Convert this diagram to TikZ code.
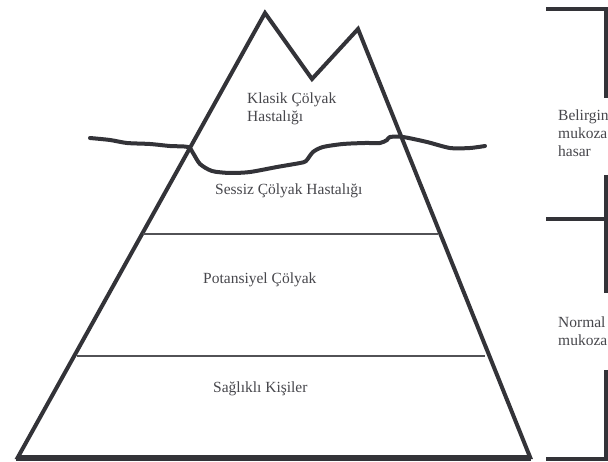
\documentclass[tikz,border=0pt]{standalone}
\usepackage{fontspec}
\setmainfont{Liberation Serif}
\definecolor{ink}{HTML}{333338}
\begin{document}
\begin{tikzpicture}[x=1pt,y=-1pt,
    thick line/.style={line width=4pt,draw=ink},
    thin line/.style={line width=1.2pt,draw=ink!85},
    label/.style={anchor=base west,inner sep=0pt,align=left,text=ink!90,
        font=\fontsize{15.5}{18}\selectfont}]
    \useasboundingbox (0,0) rectangle (608,462);
    \clip (0,0) rectangle (608,462);

    % iceberg
    \draw[thick line,line join=miter]
        (18,457) -- (265,13) -- (312,79) -- (358,29) -- (530,457) -- cycle;
    \draw[thin line]
        (143,234) -- (438,234)
        (77,356) -- (485,356)
    ;

    % water surface
    \draw[thick line,line cap=round] plot[smooth,tension=0.45] coordinates {
        (90,138) (110,140) (127,143) (150,144) (170,146) (188,147)
        (193,153) (200,164) (212,171) (230,173) (250,172) (277,167)
        (300,163) (306,161) (313,152) (323,147) (343,144) (365,143)
        (380,143) (387,140) (390,137) (403,137) (427,142) (450,148)
        (470,148) (485,146)};

    % brackets on the right
    \draw[thick line]
        (546,9.5) -- (606,9.5) -- (606,98)
        (606,175) -- (606,293)
        (546,219) -- (608,219)
        (606,370) -- (606,459)
        (546,459) -- (608,459)
        (16,459) -- (531,459)
    ;

    % last line of each label sits on the given baseline
    \node[label] (klasik) at (247,122) {Klasik Çölyak\\Hastalığı};
    \node[label] (sessiz) at (215,195) {Sessiz Çölyak Hastalığı};
    \node[label] (potansiyel) at (203,284) {Potansiyel Çölyak};
    \node[label] (saglikli) at (213,392) {Sağlıklı Kişiler};
    \node[label] (belirgin) at (558,157) {Belirgin\\mukoza\\hasar};
    \node[label] (normal) at (558,346) {Normal\\mukoza};
\end{tikzpicture}
\end{document}
